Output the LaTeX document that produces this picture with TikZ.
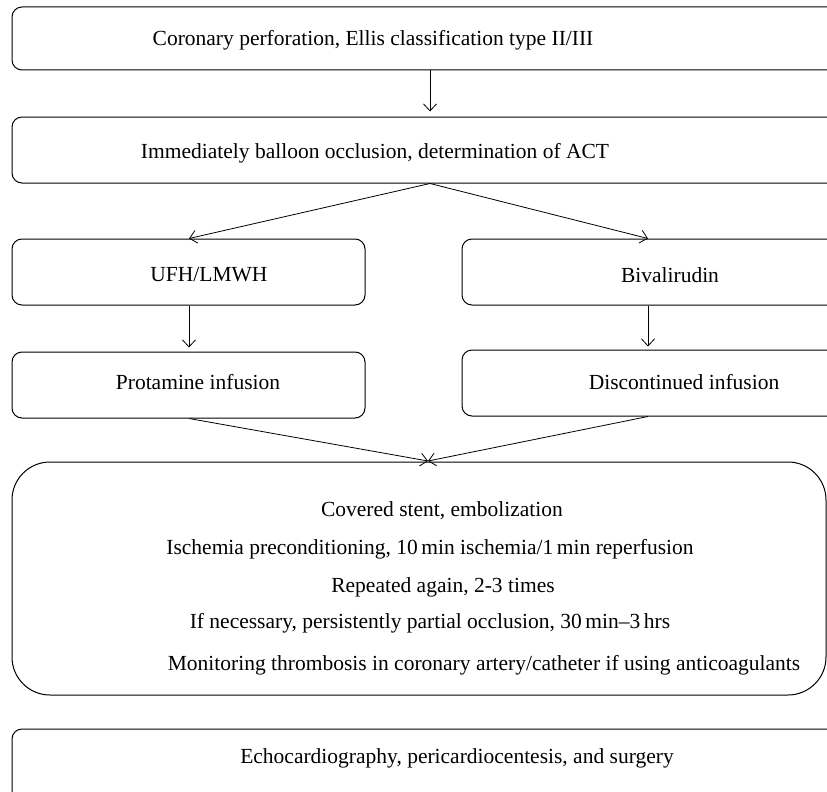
\documentclass[tikz,border=0pt]{standalone}
\usepackage{fontspec}
\setmainfont{Liberation Serif}
\usetikzlibrary{arrows.meta}
\tikzset{
  x=1pt,y=-1pt,
  box/.style={draw, line width=1pt, rounded corners=10pt, inner sep=0pt},
  bigbox/.style={draw, line width=1pt, rounded corners=38pt, inner sep=0pt},
  txt/.style={font=\fontsize{21.5}{24}\selectfont, inner sep=0pt},
  arr/.style={line width=0.8pt, -{Straight Barb[length=7pt,width=13pt]}},
}
\begin{document}
\begin{tikzpicture}
\useasboundingbox (0,0) rectangle (827,792);
\clip (0,0) rectangle (827,792);
\node[box, minimum width=848pt, minimum height=63pt] (b1) at (436,38.5) {};
\node[box, minimum width=848pt, minimum height=66pt] (b2) at (436,150) {};
\node[box, minimum width=353pt, minimum height=66pt] (b3) at (188.5,272) {};
\node[box, minimum width=398pt, minimum height=66pt] (b4) at (661,272) {};
\node[box, minimum width=353pt, minimum height=66pt] (b5) at (188.5,385) {};
\node[box, minimum width=398pt, minimum height=66pt] (b6) at (661,383) {};
\node[bigbox, minimum width=814pt, minimum height=233pt] (b7) at (419,578.5) {};
\node[box, minimum width=848pt, minimum height=91pt] (b8) at (436,774.5) {};

\node[txt] (t1) at (373,40) {Coronary perforation, Ellis classification type II/III};
\node[txt] (t2) at (375,153) {Immediately balloon occlusion, determination of ACT};
\node[txt] (t3) at (209,275) {UFH/LMWH};
\node[txt] (t4) at (670,275) {Bivalirudin};
\node[txt] (t5) at (198,382) {Protamine infusion};
\node[txt] (t6) at (684,382) {Discontinued infusion};
\node[txt] (t7a) at (442,511) {Covered stent, embolization};
\node[txt] (t7b) at (430,549) {Ischemia preconditioning, 10\,min ischemia/1\,min reperfusion};
\node[txt] (t7c) at (443,587) {Repeated again, 2-3 times};
\node[txt] (t7d) at (430,623) {If necessary, persistently partial occlusion, 30\,min--3\,hrs};
\node[txt] (t7e) at (484,665) {Monitoring thrombosis in coronary artery/catheter if using anticoagulants};
\node[txt] (t8) at (457,758) {Echocardiography, pericardiocentesis, and surgery};

\coordinate (xa) at (430,0);
\coordinate (xl) at (189,0);
\coordinate (xr) at (648,0);
\coordinate (m) at (428,461);
\draw[arr, shorten >=5pt] (b1.south -| xa) -- (b2.north -| xa);
\draw[arr] (b2.south -| xa) -- (b3.north -| xl);
\draw[arr] (b2.south -| xa) -- (b4.north -| xr);
\draw[arr, shorten >=4pt] (b3.south -| xl) -- (b5.north -| xl);
\draw[arr, shorten >=3pt] (b4.south -| xr) -- (b6.north -| xr);
\draw[arr] (b5.south -| xl) -- (m);
\draw[arr] (b6.south -| xr) -- (m);
\end{tikzpicture}
\end{document}
